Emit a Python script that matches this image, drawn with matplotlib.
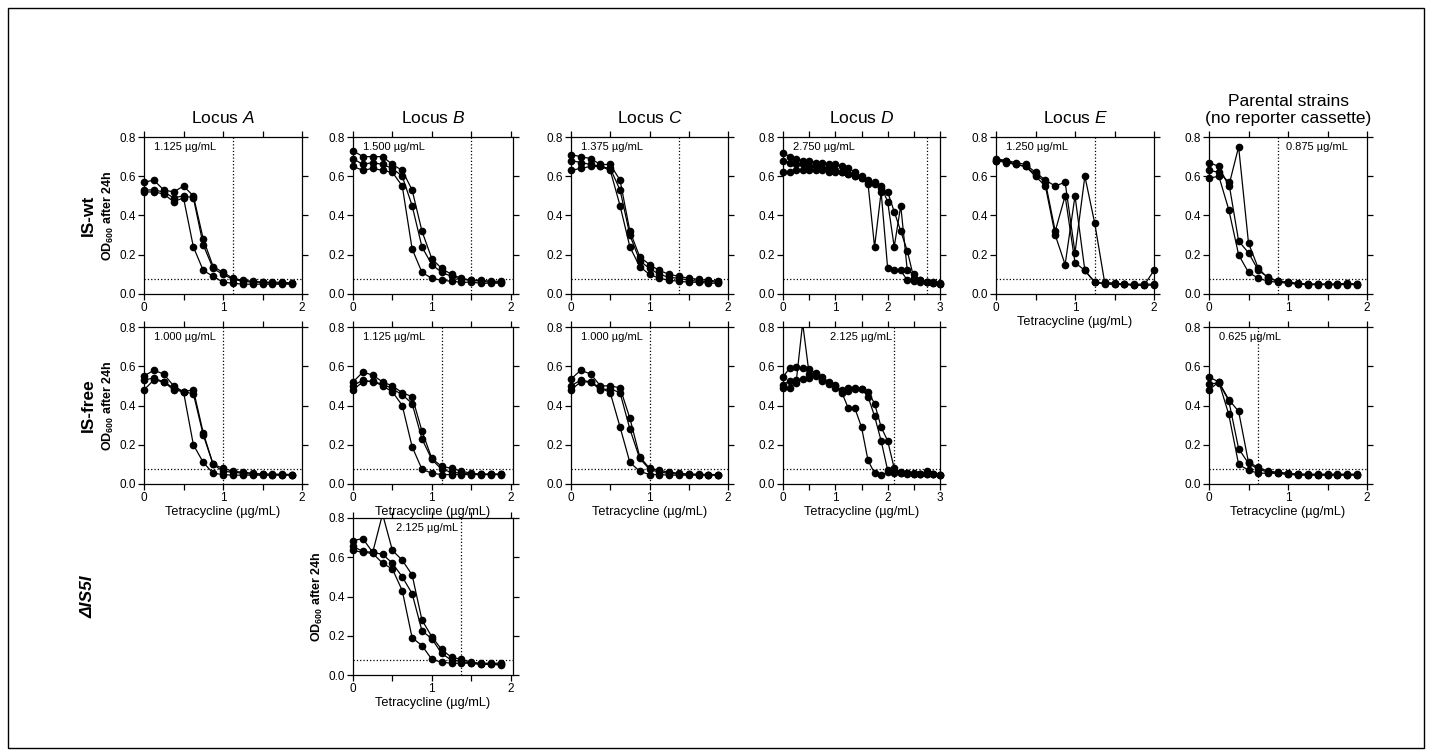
import numpy as np
import matplotlib.pyplot as plt
from matplotlib.ticker import MultipleLocator, FormatStrFormatter
from matplotlib.patches import Rectangle

plt.rcParams['font.family'] = ['Liberation Sans', 'DejaVu Sans']
plt.rcParams['mathtext.fontset'] = 'custom'
plt.rcParams['mathtext.rm'] = 'Liberation Sans'
plt.rcParams['mathtext.it'] = 'Liberation Sans:italic'
plt.rcParams['mathtext.bf'] = 'Liberation Sans:bold'

# tetracycline concentrations (ug/mL)
conc_2 = [0, 0.125, 0.25, 0.375, 0.5, 0.625, 0.75, 0.875, 1.0, 1.125, 1.25, 1.375, 1.5, 1.625, 1.75, 1.875]
conc_E = conc_2 + [2.0]
conc_3 = conc_2 + [2.0, 2.125, 2.25, 2.375, 2.5, 2.625, 2.75, 2.875, 3.0]

# OD600 after 24h, three replicates per panel
wt_A = [[0.57, 0.58, 0.53, 0.52, 0.55, 0.50, 0.28, 0.14, 0.11, 0.08, 0.07, 0.065, 0.06, 0.06, 0.06, 0.055],
        [0.53, 0.53, 0.52, 0.49, 0.50, 0.49, 0.25, 0.13, 0.10, 0.075, 0.065, 0.06, 0.06, 0.055, 0.055, 0.055],
        [0.52, 0.52, 0.51, 0.47, 0.49, 0.24, 0.12, 0.09, 0.06, 0.055, 0.05, 0.05, 0.05, 0.05, 0.05, 0.05]]
wt_B = [[0.73, 0.70, 0.70, 0.70, 0.66, 0.63, 0.53, 0.32, 0.18, 0.13, 0.10, 0.08, 0.07, 0.07, 0.065, 0.065],
        [0.69, 0.66, 0.67, 0.66, 0.64, 0.60, 0.45, 0.24, 0.15, 0.11, 0.09, 0.075, 0.07, 0.065, 0.06, 0.06],
        [0.65, 0.63, 0.64, 0.63, 0.62, 0.55, 0.23, 0.11, 0.08, 0.07, 0.065, 0.06, 0.06, 0.055, 0.055, 0.055]]
wt_C = [[0.71, 0.70, 0.69, 0.66, 0.66, 0.58, 0.32, 0.19, 0.15, 0.12, 0.10, 0.09, 0.08, 0.075, 0.07, 0.065],
        [0.68, 0.67, 0.66, 0.65, 0.64, 0.53, 0.30, 0.17, 0.13, 0.10, 0.085, 0.08, 0.07, 0.065, 0.065, 0.06],
        [0.63, 0.64, 0.65, 0.65, 0.63, 0.45, 0.24, 0.14, 0.10, 0.08, 0.07, 0.065, 0.06, 0.06, 0.055, 0.055]]
wt_D = [[0.72, 0.70, 0.69, 0.68, 0.68, 0.67, 0.67, 0.66, 0.66, 0.65, 0.64, 0.62, 0.60, 0.56, 0.24, 0.52, 0.13, 0.12, 0.12, 0.07, 0.065, 0.06, 0.06, 0.055, 0.055],
        [0.68, 0.67, 0.66, 0.66, 0.65, 0.65, 0.64, 0.64, 0.63, 0.62, 0.61, 0.60, 0.59, 0.58, 0.57, 0.55, 0.47, 0.24, 0.45, 0.12, 0.10, 0.07, 0.06, 0.06, 0.05],
        [0.62, 0.62, 0.63, 0.63, 0.63, 0.63, 0.63, 0.62, 0.62, 0.62, 0.61, 0.60, 0.59, 0.57, 0.56, 0.54, 0.52, 0.42, 0.32, 0.22, 0.08, 0.07, 0.06, 0.055, 0.05]]
wt_E = [[0.69, 0.68, 0.67, 0.66, 0.62, 0.58, 0.55, 0.57, 0.21, 0.60, 0.36, 0.06, 0.055, 0.05, 0.05, 0.05, 0.05],
        [0.68, 0.67, 0.66, 0.65, 0.61, 0.57, 0.32, 0.50, 0.16, 0.12, 0.06, 0.055, 0.05, 0.05, 0.045, 0.045, 0.12],
        [0.68, 0.68, 0.66, 0.65, 0.60, 0.55, 0.30, 0.15, 0.50, 0.12, 0.06, 0.05, 0.05, 0.05, 0.045, 0.045, 0.045]]
wt_P = [[0.67, 0.65, 0.55, 0.75, 0.26, 0.13, 0.08, 0.065, 0.06, 0.055, 0.05, 0.05, 0.05, 0.05, 0.055, 0.05],
        [0.63, 0.62, 0.57, 0.27, 0.21, 0.12, 0.085, 0.065, 0.06, 0.05, 0.05, 0.05, 0.05, 0.05, 0.05, 0.05],
        [0.59, 0.60, 0.43, 0.20, 0.11, 0.08, 0.065, 0.06, 0.055, 0.05, 0.048, 0.048, 0.048, 0.048, 0.048, 0.048]]

free_A = [[0.55, 0.58, 0.56, 0.50, 0.47, 0.48, 0.26, 0.10, 0.08, 0.065, 0.06, 0.055, 0.05, 0.05, 0.05, 0.048],
          [0.53, 0.54, 0.52, 0.49, 0.47, 0.46, 0.25, 0.10, 0.065, 0.06, 0.055, 0.05, 0.05, 0.048, 0.048, 0.048],
          [0.48, 0.53, 0.52, 0.48, 0.47, 0.20, 0.11, 0.055, 0.048, 0.045, 0.045, 0.045, 0.045, 0.045, 0.045, 0.045]]
free_B = [[0.52, 0.57, 0.555, 0.52, 0.50, 0.465, 0.445, 0.27, 0.13, 0.09, 0.08, 0.065, 0.055, 0.05, 0.05, 0.05],
          [0.50, 0.53, 0.52, 0.51, 0.485, 0.455, 0.41, 0.23, 0.125, 0.075, 0.06, 0.055, 0.05, 0.05, 0.05, 0.05],
          [0.48, 0.52, 0.525, 0.50, 0.47, 0.40, 0.19, 0.075, 0.055, 0.048, 0.048, 0.048, 0.048, 0.048, 0.048, 0.048]]
free_C = [[0.535, 0.58, 0.56, 0.50, 0.50, 0.49, 0.335, 0.14, 0.08, 0.07, 0.06, 0.055, 0.05, 0.05, 0.048, 0.048],
          [0.50, 0.53, 0.52, 0.48, 0.485, 0.465, 0.28, 0.13, 0.075, 0.06, 0.055, 0.05, 0.05, 0.048, 0.048, 0.048],
          [0.48, 0.52, 0.52, 0.49, 0.465, 0.29, 0.11, 0.065, 0.048, 0.048, 0.045, 0.045, 0.045, 0.045, 0.045, 0.045]]
free_D = [[0.545, 0.59, 0.595, 0.59, 0.585, 0.565, 0.545, 0.52, 0.505, 0.465, 0.385, 0.385, 0.29, 0.12, 0.055, 0.045, 0.06, 0.055, 0.055, 0.05, 0.05, 0.05, 0.05, 0.05, 0.048],
          [0.505, 0.525, 0.53, 0.535, 0.54, 0.56, 0.525, 0.515, 0.49, 0.48, 0.49, 0.49, 0.485, 0.445, 0.345, 0.22, 0.07, 0.06, 0.055, 0.055, 0.055, 0.05, 0.065, 0.05, 0.048],
          [0.49, 0.49, 0.515, 0.82, 0.56, 0.55, 0.53, 0.51, 0.50, 0.475, 0.475, 0.485, 0.485, 0.47, 0.41, 0.29, 0.22, 0.08, 0.06, 0.055, 0.05, 0.05, 0.05, 0.05, 0.045]]
free_P = [[0.545, 0.52, 0.43, 0.37, 0.11, 0.085, 0.065, 0.06, 0.055, 0.05, 0.05, 0.05, 0.05, 0.05, 0.05, 0.05],
          [0.51, 0.515, 0.425, 0.18, 0.105, 0.075, 0.06, 0.055, 0.05, 0.05, 0.048, 0.048, 0.048, 0.048, 0.048, 0.048],
          [0.48, 0.52, 0.355, 0.10, 0.07, 0.055, 0.055, 0.055, 0.05, 0.045, 0.045, 0.045, 0.045, 0.045, 0.045, 0.045]]

dis5i_B = [[0.685, 0.695, 0.625, 0.82, 0.635, 0.585, 0.51, 0.28, 0.195, 0.13, 0.09, 0.08, 0.065, 0.06, 0.06, 0.06],
           [0.655, 0.63, 0.625, 0.615, 0.57, 0.50, 0.415, 0.225, 0.185, 0.11, 0.075, 0.07, 0.06, 0.055, 0.055, 0.055],
           [0.635, 0.625, 0.62, 0.57, 0.54, 0.43, 0.19, 0.15, 0.08, 0.065, 0.06, 0.06, 0.06, 0.055, 0.055, 0.05]]

mic_wt = [1.125, 1.5, 1.375, 2.75, 1.25, 0.875]
mic_free = [1.0, 1.125, 1.0, 2.125, 0.625]
mic_dis5i = 1.375
labels_wt = ['1.125 µg/mL', '1.500 µg/mL', '1.375 µg/mL', '2.750 µg/mL', '1.250 µg/mL', '0.875 µg/mL']
labels_free = ['1.000 µg/mL', '1.125 µg/mL', '1.000 µg/mL', '2.125 µg/mL', '0.625 µg/mL']
label_dis5i = '2.125 µg/mL'
cutoff = 0.075

titles = ['Locus $\\mathit{A}$', 'Locus $\\mathit{B}$', 'Locus $\\mathit{C}$',
          'Locus $\\mathit{D}$', 'Locus $\\mathit{E}$', 'Parental strains\n(no reporter cassette)']
row_names = ['IS-wt', 'IS-free', 'ΔIS5I']

W, H = 1432, 756
fig = plt.figure(figsize=(W / 100, H / 100), dpi=100)
fig.patches.append(Rectangle((8 / W, 8 / H), 1 - 16 / W, 1 - 16 / H, transform=fig.transFigure,
                             fill=False, edgecolor='black', linewidth=1))

col_left = [144, 353, 571, 783, 996, 1209]
col_w = [158, 160, 157, 157, 158, 158]
row_top = [137, 327, 518]
row_h = 157


def make_ax(r, c):
    return fig.add_axes([col_left[c] / W, 1 - (row_top[r] + row_h) / H, col_w[c] / W, row_h / H])


def draw_panel(ax, conc, reps, xmax, mic, label, tx, ha, xlabel=False, ylabel=False):
    x = np.array(conc)
    for rep in reps:
        y = np.array(rep)
        ax.plot(x, y, color='black', lw=0.9)
        m = y <= 0.8
        ax.plot(x[m], y[m], 'o', color='black', ms=4.5, clip_on=False, zorder=3)
    ax.axvline(mic, color='black', ls=':', lw=0.9)
    ax.axhline(cutoff, color='black', ls=':', lw=0.9)
    ax.text(tx, 0.75, label, ha=ha, va='center', fontsize=8)
    ax.set_xlim(0, xmax)
    ax.set_ylim(0, 0.8)
    ax.xaxis.set_major_locator(MultipleLocator(1))
    ax.xaxis.set_minor_locator(MultipleLocator(0.5))
    ax.yaxis.set_major_locator(MultipleLocator(0.2))
    ax.yaxis.set_major_formatter(FormatStrFormatter('%.1f'))
    ax.tick_params(which='both', direction='out', top=True, right=True, length=4, width=0.9,
                   labelsize=8.5, pad=1.5)
    for s in ax.spines.values():
        s.set_linewidth(0.9)
    if xlabel:
        ax.set_xlabel('Tetracycline (µg/mL)', fontsize=9.2, labelpad=2)
    if ylabel:
        ax.set_ylabel('OD$_\\mathbf{600}$ after 24h', fontsize=9, fontweight='bold', labelpad=3)


# row 1: IS-wt
wt_sets = [wt_A, wt_B, wt_C, wt_D, wt_E, wt_P]
wt_conc = [conc_2, conc_2, conc_2, conc_3, conc_E, conc_2]
wt_xmax = [2, 2.03, 2, 3, 2, 2]
wt_tx = [(0.13, 'left'), (0.13, 'left'), (0.13, 'left'), (0.2, 'left'), (0.13, 'left'), (0.97, 'left')]
for c in range(6):
    ax = make_ax(0, c)
    draw_panel(ax, wt_conc[c], wt_sets[c], wt_xmax[c], mic_wt[c], labels_wt[c],
               wt_tx[c][0], wt_tx[c][1], xlabel=(c == 4), ylabel=(c == 0))
    ax.set_title(titles[c], fontsize=12.5, pad=10)

# row 2: IS-free
free_sets = [free_A, free_B, free_C, free_D, free_P]
free_conc = [conc_2, conc_2, conc_2, conc_3, conc_2]
free_cols = [0, 1, 2, 3, 5]
free_xmax = [2, 2.03, 2, 3, 2]
free_tx = [(0.13, 'left'), (0.13, 'left'), (0.13, 'left'), (2.08, 'right'), (0.13, 'left')]
for i in range(5):
    ax = make_ax(1, free_cols[i])
    draw_panel(ax, free_conc[i], free_sets[i], free_xmax[i], mic_free[i], labels_free[i],
               free_tx[i][0], free_tx[i][1], xlabel=True, ylabel=(i == 0))

# row 3: delta IS5I
ax = make_ax(2, 1)
draw_panel(ax, conc_2, dis5i_B, 2.03, mic_dis5i, label_dis5i, 1.33, 'right', xlabel=True, ylabel=True)

# row labels
for r in range(3):
    yc = 1 - (row_top[r] + row_h / 2) / H
    fig.text(88 / W, yc, row_names[r], rotation=90, ha='center', va='center', fontsize=12.5,
             fontweight='bold', style='italic' if r == 2 else 'normal')

fig.savefig('out.png', dpi=100)
